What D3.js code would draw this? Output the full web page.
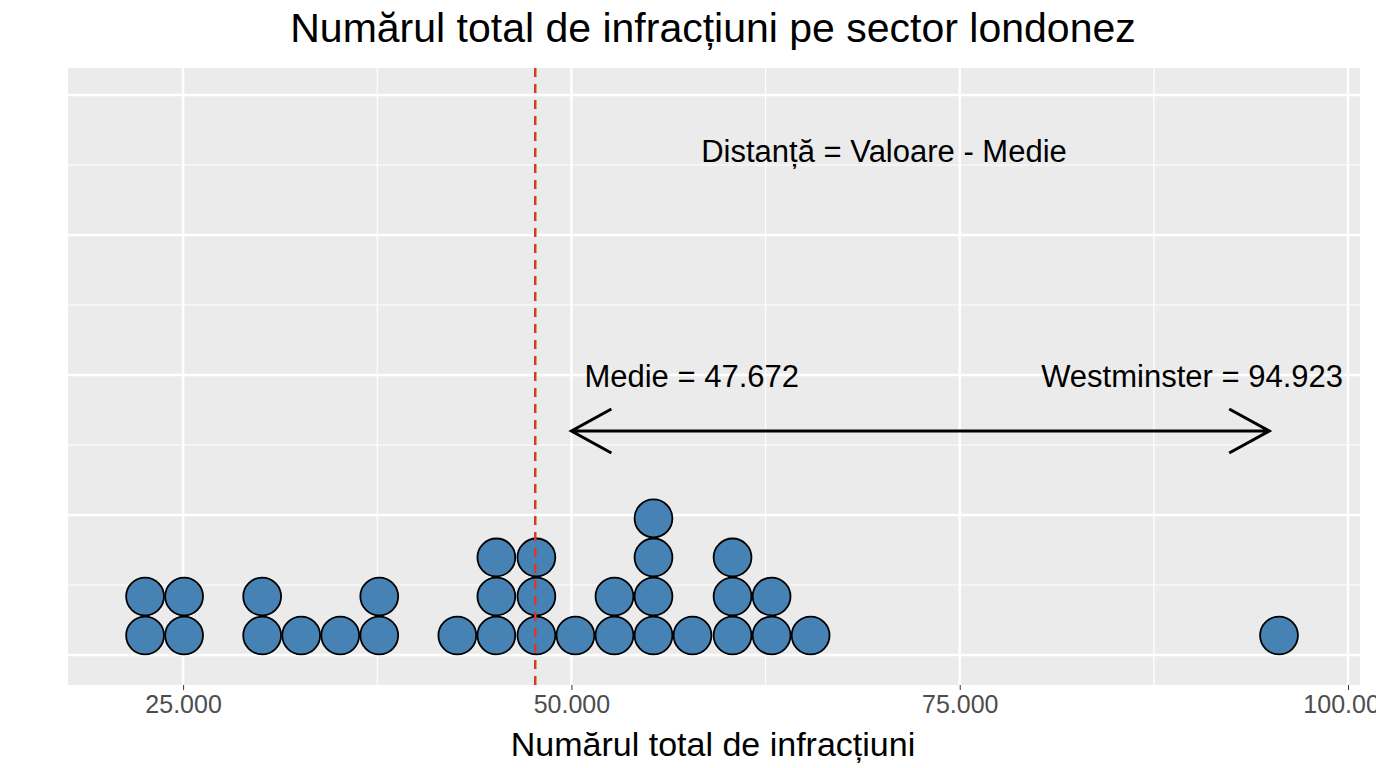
<!DOCTYPE html>
<html><head><meta charset="utf-8">
<script src="https://cdn.jsdelivr.net/npm/d3@7"></script>
<style>body{margin:0;background:#fff}svg{font-family:"Liberation Sans",Arial,sans-serif}</style>
</head><body><svg id="c" width="1376" height="768"></svg>
<script>
const binCenters=[22552,25064,30090,32603,35116,37629,42655,45168,47745,50258,52771,55284,57797,60374,62887,65400,95555];
const binCounts=[2,2,2,1,1,2,1,3,3,1,2,4,1,3,2,1,1];
const xTicks=[25000,50000,75000,100000];
const xMinor=[37500,62500,87500];
const yMajor=[0,0.25,0.5,0.75,1];
const yMinor=[0.125,0.375,0.625,0.875];
const meanVal=47672, westVal=94923, binWidth=2513;
const fmt=v=>d3.format(",.0f")(v).replace(/,/g,".");

const svg=d3.select("#c");
const L=68,R=1360,T=68,B=685;
const x=d3.scaleLinear().domain([17590,100770]).range([L,R]);
const y=d3.scaleLinear().domain([0,1]).range([655,95]);
svg.append("rect").attr("x",L).attr("y",T).attr("width",R-L).attr("height",B-T).attr("fill","#ebebeb");
const g=svg.append("g");
yMinor.forEach(v=>g.append("line").attr("x1",L).attr("x2",R).attr("y1",y(v)).attr("y2",y(v)).attr("stroke","#fff").attr("stroke-width",1.2));
xMinor.forEach(v=>g.append("line").attr("x1",x(v)).attr("x2",x(v)).attr("y1",T).attr("y2",B).attr("stroke","#fff").attr("stroke-width",1.2));
yMajor.forEach(v=>g.append("line").attr("x1",L).attr("x2",R).attr("y1",y(v)).attr("y2",y(v)).attr("stroke","#fff").attr("stroke-width",2.4));
xTicks.forEach(v=>g.append("line").attr("x1",x(v)).attr("x2",x(v)).attr("y1",T).attr("y2",B).attr("stroke","#fff").attr("stroke-width",2.4));
const ax=svg.append("g").attr("transform",`translate(0,${B})`).call(d3.axisBottom(x).tickValues(xTicks).tickFormat(fmt).tickSize(5).tickPadding(5));
ax.select(".domain").remove();
ax.selectAll("line").attr("stroke","#333");
ax.selectAll("text").attr("fill","#4d4d4d").style("font-size","25px");
const r=(x(binWidth)-x(0))/2;
binCenters.forEach((c,i)=>{for(let k=0;k<binCounts[i];k++){
 svg.append("circle").attr("cx",x(c)).attr("cy",y(0)-r*(2*k+1)).attr("r",r-0.6).attr("fill","#4682b4").attr("stroke","#000").attr("stroke-width",1.8);}});
svg.append("line").attr("x1",x(meanVal)).attr("x2",x(meanVal)).attr("y1",T).attr("y2",B).attr("stroke","#d9372b").attr("stroke-width",2.5).attr("stroke-dasharray","9,7");
const ay=y(0.4), x1=x(50000), x2=x(westVal);
svg.append("path").attr("d",`M${x1},${ay}H${x2}M${x1+40},${ay-22}L${x1},${ay}L${x1+40},${ay+22}M${x2-40},${ay-22}L${x2},${ay}L${x2-40},${ay+22}`).attr("fill","none").attr("stroke","#000").attr("stroke-width",3);
const t=(s,xx,yy,a,sz)=>svg.append("text").attr("x",xx).attr("y",yy).attr("text-anchor",a).style("font-size",sz+"px").attr("fill","#000").text(s);
t("Medie = "+fmt(meanVal),x(50000)+13,387,"start",31);
t("Westminster = "+fmt(westVal),1343,387,"end",31);
t("Distanță = Valoare - Medie",884,162,"middle",31);
t("Numărul total de infracțiuni pe sector londonez",713,42,"middle",41);
t("Numărul total de infracțiuni",713,756,"middle",34);
</script></body></html>
